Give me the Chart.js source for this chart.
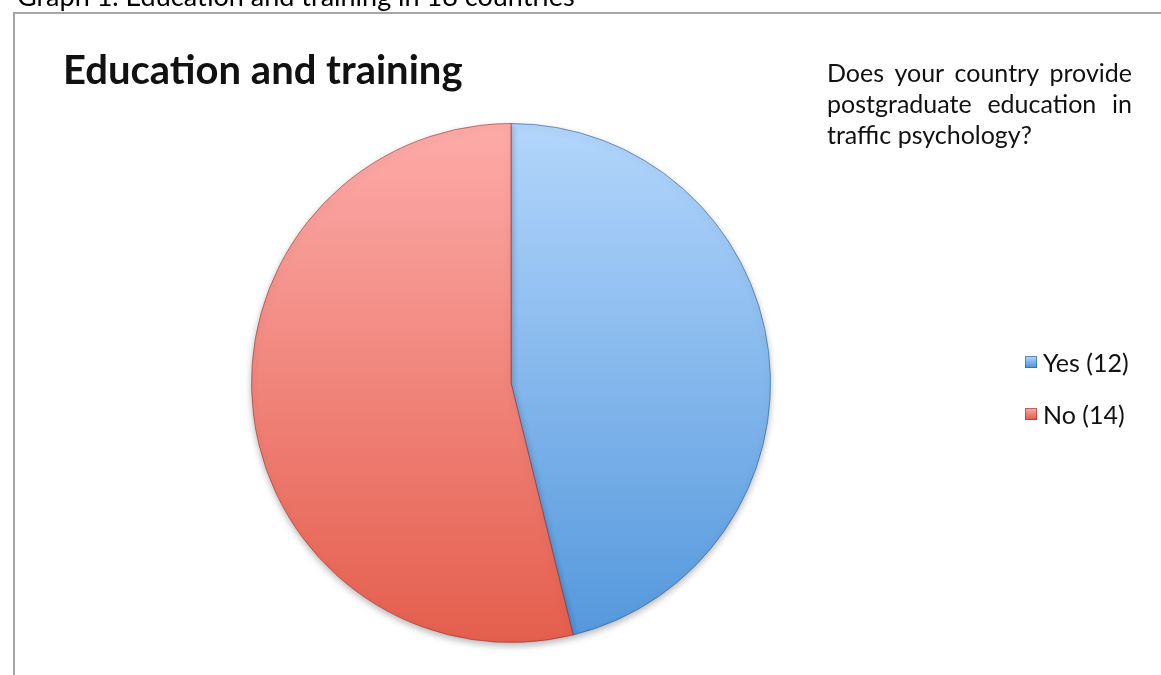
<!DOCTYPE html>
<html>
<head>
<meta charset="utf-8">
<script src="https://cdn.jsdelivr.net/npm/chart.js@4.4.0/dist/chart.umd.min.js"></script>
<style>
  html, body { margin: 0; padding: 0; background: #fff; overflow: hidden; }
  #wrap { position: relative; width: 1161px; height: 675px; }
</style>
</head>
<body>
<div id="wrap"><canvas id="pie" width="1161" height="675"></canvas></div>
<script>
// data
var labels = ["Yes (12)", "No (14)"];
var counts = [12, 14];
var topColors = ["#b3d6fc", "#fdaba9"];
var bottomColors = ["#5397dc", "#e45e4d"];
var edgeColors = ["rgba(40,90,150,0.6)", "rgba(150,50,45,0.6)"];

var caption = "Graph 1. Education and training in 18 countries";
var title = "Education and training";
var question = ["Does your country provide", "postgraduate education in", "traffic psychology?"];

function vGradient(ctx, area, i) {
    var g = ctx.createLinearGradient(0, area.top, 0, area.bottom);
    g.addColorStop(0, topColors[i]);
    g.addColorStop(1, bottomColors[i]);
    return g;
}

// draw a line justified between x0 and x1 (last line left aligned)
function justified(ctx, text, x0, x1, y, last) {
    var words = text.split(" ");
    if (last || words.length < 2) { ctx.fillText(text, x0, y); return; }
    var total = 0;
    words.forEach(function (w) { total += ctx.measureText(w).width; });
    var gap = (x1 - x0 - total) / (words.length - 1);
    var x = x0;
    words.forEach(function (w) {
        ctx.fillText(w, x, y);
        x += ctx.measureText(w).width + gap;
    });
}

var decor = {
    id: "decor",
    beforeDraw: function (chart) {
        var ctx = chart.ctx;
        ctx.save();
        // caption above the frame, cut by the top edge
        ctx.fillStyle = "#000";
        ctx.font = "27px Lato, 'Open Sans', sans-serif";
        ctx.textBaseline = "alphabetic";
        ctx.fillText(caption, 17, 6);
        // frame
        ctx.strokeStyle = "#a6a6a6";
        ctx.lineWidth = 2;
        ctx.strokeRect(14, 13, 1200, 700);
        // title
        ctx.font = "bold 40px Lato, 'Open Sans', sans-serif";
        ctx.fillStyle = "#111";
        ctx.fillText(title, 63, 84);
        // question, justified
        ctx.font = "25px Lato, 'Open Sans', sans-serif";
        ctx.fillStyle = "#111";
        question.forEach(function (line, i) {
            justified(ctx, line, 827, 1132, 82 + i * 31, i === question.length - 1);
        });
        // legend
        labels.forEach(function (lab, i) {
            var y = 372 + i * 52;
            var g = ctx.createLinearGradient(0, y - 16, 0, y - 5);
            g.addColorStop(0, topColors[i]);
            g.addColorStop(1, bottomColors[i]);
            ctx.fillStyle = g;
            ctx.fillRect(1025, y - 16, 12, 12);
            ctx.strokeStyle = edgeColors[i];
            ctx.lineWidth = 1;
            ctx.strokeRect(1025.5, y - 15.5, 11, 11);
            ctx.fillStyle = "#111";
            ctx.font = "25px Lato, 'Open Sans', sans-serif";
            ctx.fillText(lab, 1043, y);
        });
        ctx.restore();
    },
    beforeDatasetDraw: function (chart) {
        var ctx = chart.ctx;
        ctx.save();
        ctx.shadowColor = "rgba(0,0,0,0.28)";
        ctx.shadowBlur = 7;
        ctx.shadowOffsetY = 3;
    },
    afterDatasetDraw: function (chart) {
        chart.ctx.restore();
    }
};

new Chart(document.getElementById("pie").getContext("2d"), {
    type: "pie",
    data: {
        labels: labels,
        datasets: [
            {
                data: counts,
                backgroundColor: function (c) {
                    var area = c.chart.chartArea;
                    if (!area) return topColors[c.dataIndex];
                    return vGradient(c.chart.ctx, area, c.dataIndex);
                },
                borderColor: edgeColors,
                borderWidth: 1
            }
        ]
    },
    options: {
        responsive: false,
        animation: false,
        layout: {
            padding: { left: 251, right: 390, top: 123, bottom: 32 }
        },
        plugins: {
            legend: { display: false },
            title: { display: false },
            tooltip: { enabled: false }
        }
    },
    plugins: [decor]
});
</script>
</body>
</html>
